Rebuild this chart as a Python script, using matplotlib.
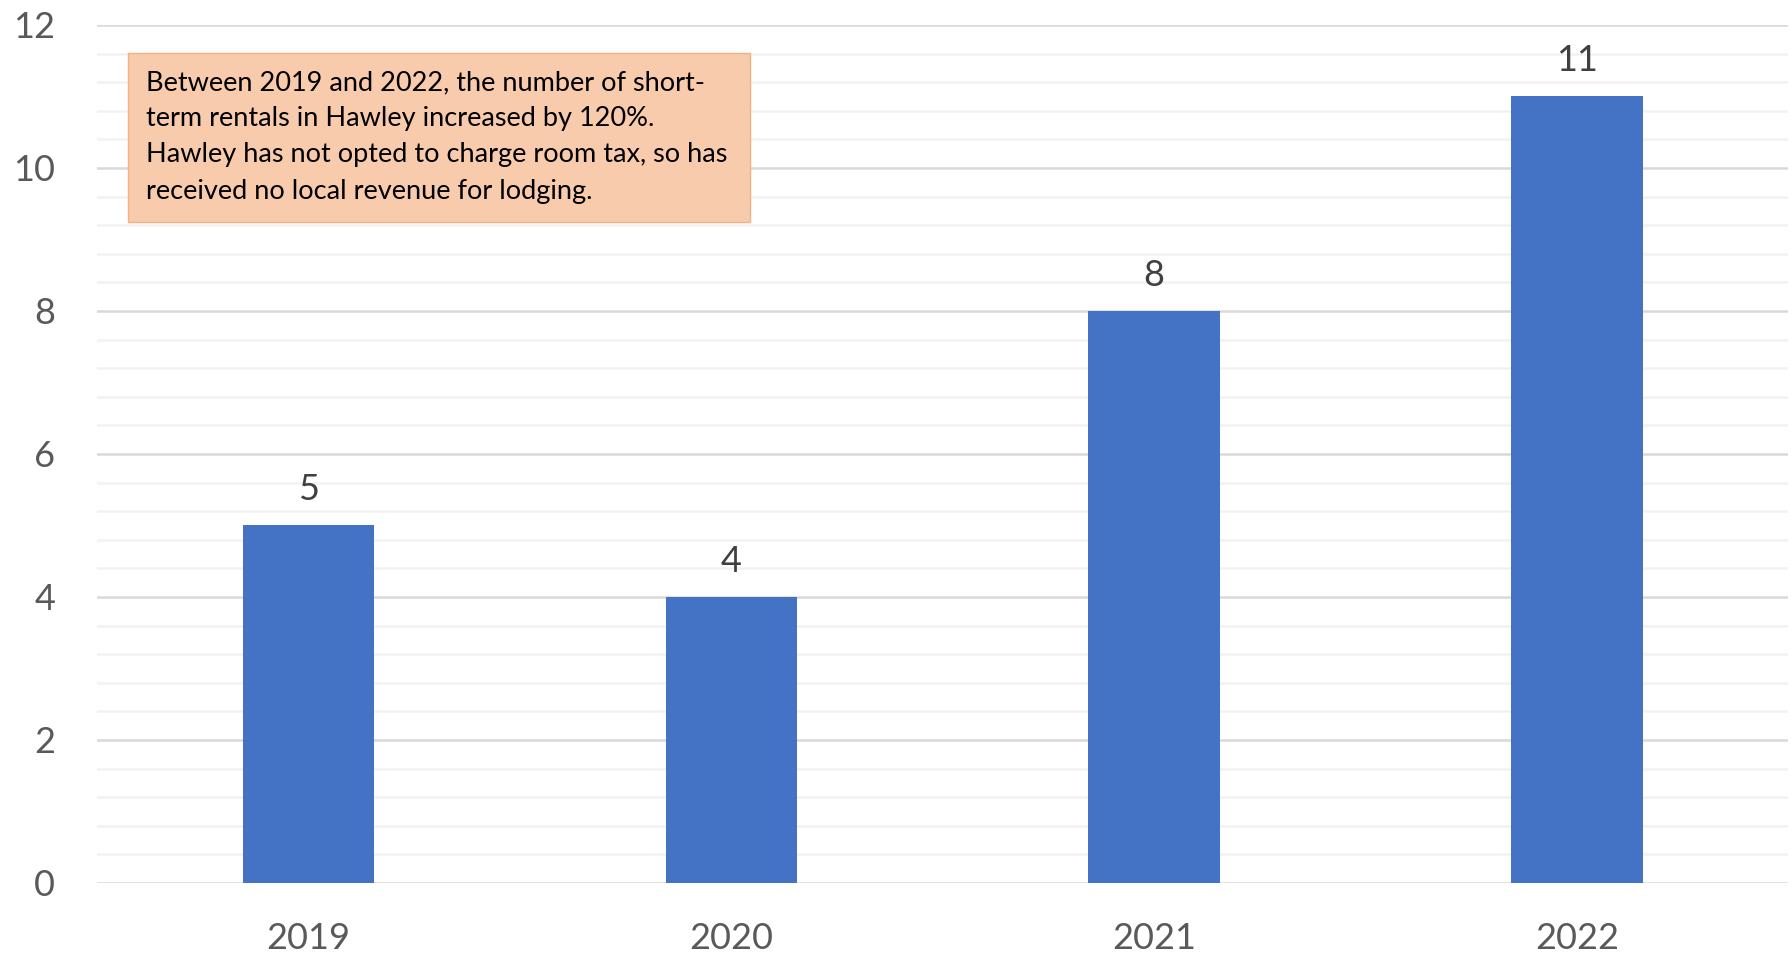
import numpy as np
import matplotlib
matplotlib.use("Agg")
import matplotlib.pyplot as plt
from matplotlib.patches import Rectangle
from matplotlib.ticker import MultipleLocator

years = ["2019", "2020", "2021", "2022"]
rentals = [5, 4, 8, 11]
note = ("Between 2019 and 2022, the number of short-\n"
        "term rentals in Hawley increased by 120%.\n"
        "Hawley has not opted to charge room tax, so has\n"
        "received no local revenue for lodging.")

plt.rcParams["font.family"] = ["Lato", "DejaVu Sans"]

fig = plt.figure(figsize=(17.92, 9.56), dpi=100)
ax = fig.add_axes([0.054, 0.0764, 0.944, 0.8975])

x = np.arange(len(years))
bars = ax.bar(x, rentals, width=0.31, color="#4472C4", zorder=3)

for xi, v in zip(x, rentals):
    ax.annotate(str(v), (xi, v), xytext=(0, 14), textcoords="offset points",
                ha="center", va="bottom", fontsize=26, color="#404040")

ax.set_xlim(-0.5, 3.5)
ax.set_ylim(0, 12)
ax.yaxis.set_major_locator(MultipleLocator(2))
ax.yaxis.set_minor_locator(MultipleLocator(0.4))
ax.grid(axis="y", which="major", color="#d9d9d9", linewidth=1.8, zorder=0)
ax.grid(axis="y", which="minor", color="#f2f2f2", linewidth=1.8, zorder=0)

ax.set_xticks(x)
ax.set_xticklabels(years)
ax.tick_params(axis="both", which="both", length=0, labelsize=26, labelcolor="#595959")
ax.tick_params(axis="x", pad=28)
ax.tick_params(axis="y", pad=30)
for s in ax.spines.values():
    s.set_visible(False)

# note box in the upper left
ax.add_patch(Rectangle((-0.427, 9.24), 1.471, 2.37, facecolor="#F8CBAD",
                       edgecolor="#F4B183", linewidth=1, zorder=4))
ax.text(-0.384, 11.37, note, ha="left", va="top", fontsize=19.5,
        color="black", linespacing=1.56, zorder=5)

fig.savefig("out.png", dpi=100)
